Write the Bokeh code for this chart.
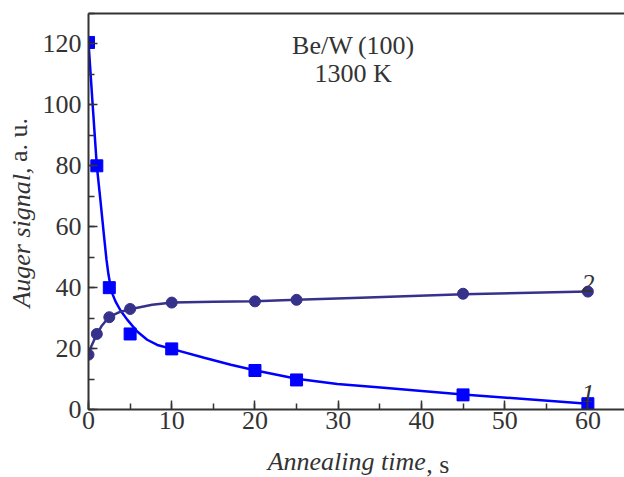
import math
from bokeh.plotting import figure
from bokeh.models import Label, LinearAxis, SingleIntervalTicker, FixedTicker, Range1d
from bokeh.embed import file_html
from bokeh.resources import INLINE

# measured points
time_s = [0, 1, 2.5, 5, 10, 20, 25, 45, 60]
signal_1 = [120.5, 80, 40, 24.8, 19.9, 12.8, 9.7, 4.8, 1.9]
signal_2 = [18, 24.8, 30.3, 33.0, 35.1, 35.5, 36.0, 38.0, 38.7]

# fitted curves
curve1_x = [0, 0.5, 1.0, 1.44, 1.84, 2.16, 2.4, 2.64, 2.9, 3.24, 3.85, 4.65, 5.85, 7.05, 8.26, 10, 13.9, 17.1, 20.1, 25, 29.9, 35.1, 45, 60]
curve1_y = [120.5, 100, 80, 68.5, 57.6, 49.2, 44.3, 40.6, 37.8, 35.5, 32.5, 29.5, 25.6, 22.9, 21.2, 19.9, 17.0, 14.7, 12.8, 10.1, 8.4, 7.2, 4.9, 1.9]
curve2_x = [0, 0.3, 0.64, 1.04, 1.6, 2.44, 3.65, 5.13, 7.65, 10.1, 15, 20, 25, 32.7, 45, 60]
curve2_y = [18, 20.5, 22.6, 24.8, 27.5, 30.3, 31.9, 33.0, 34.4, 35.1, 35.35, 35.55, 36.0, 36.7, 37.8, 38.7]

BLUE = "#0000ff"
NAVY = "#36318a"
AX = "#333333"
SERIF = "Liberation Serif"
NB = "\u00a0"

p = figure(frame_width=536, frame_height=396, output_backend="svg", toolbar_location=None,
           x_range=Range1d(0, 64.4), y_range=Range1d(0, 130),
           min_border_left=88, min_border_right=0, min_border_top=13, min_border_bottom=68)
p.outline_line_color = None
p.xgrid.visible = False
p.ygrid.visible = False
p.background_fill_color = "white"
p.border_fill_color = "white"

p.xaxis.ticker = SingleIntervalTicker(interval=10, num_minor_ticks=2)
p.yaxis.ticker = SingleIntervalTicker(interval=20, num_minor_ticks=2)
for ax in (p.xaxis[0], p.yaxis[0]):
    ax.axis_line_width = 2
    ax.axis_line_color = AX
    ax.major_tick_in = 9
    ax.major_tick_out = 0
    ax.minor_tick_in = 6
    ax.minor_tick_out = 0
    ax.major_tick_line_width = 1.5
    ax.minor_tick_line_width = 1.5
    ax.major_tick_line_color = AX
    ax.minor_tick_line_color = AX
    ax.major_label_text_font = SERIF
    ax.major_label_text_font_size = "26px"
    ax.major_label_text_color = AX
    ax.axis_label_text_font = SERIF
    ax.axis_label_text_font_style = "italic"
    ax.axis_label_text_font_size = "26px"
    ax.axis_label_text_color = AX

xa = p.xaxis[0]
xa.major_label_standoff = 2
xa.axis_label = "Annealing time" + NB * 3
xa.axis_label_standoff = 15

ya = p.yaxis[0]
ya.major_label_standoff = 7
ya.axis_label = "Auger signal," + NB * 8
ya.axis_label_standoff = 4

# upright parts of the titles, pulled back onto the same line as the italic parts
def title_tail(text):
    return LinearAxis(ticker=FixedTicker(ticks=[]), axis_line_color=None,
                      major_tick_in=0, major_tick_out=0, minor_tick_in=0, minor_tick_out=0,
                      major_label_standoff=0,
                      axis_label=text, axis_label_text_font=SERIF,
                      axis_label_text_font_style="normal", axis_label_text_font_size="26px",
                      axis_label_text_color=AX, axis_label_standoff=-29)

p.add_layout(title_tail(NB * 25 + ", s"), "below")
p.add_layout(title_tail(NB * 22 + "a. u."), "left")

top = LinearAxis(ticker=FixedTicker(ticks=[]), axis_line_width=2, axis_line_color=AX,
                 major_tick_in=0, major_tick_out=0, minor_tick_in=0, minor_tick_out=0)
p.add_layout(top, "above")

p.line(curve1_x, curve1_y, line_color=BLUE, line_width=2.5)
p.line(curve2_x, curve2_y, line_color=NAVY, line_width=2.5)
p.scatter(time_s, signal_1, marker="square", size=12, fill_color=BLUE, line_color=BLUE)
p.scatter(time_s, signal_2, marker="circle", size=11, fill_color=NAVY, line_color=NAVY)

def lab(x, y, text, style="normal", align="left"):
    p.add_layout(Label(x=x, y=y, text=text, text_font=SERIF, text_font_style=style,
                       text_font_size="26px", text_color=AX, text_align=align,
                       text_baseline="alphabetic"))

lab(31.8, 119.5, "Be/W\u2009(100)", align="center")
lab(31.8, 110.3, "1300 K", align="center")
lab(60, 5.4, "1", style="italic", align="center")
lab(60, 41.5, "2", style="italic", align="center")

open("out.html", "w").write(file_html(p, INLINE))
